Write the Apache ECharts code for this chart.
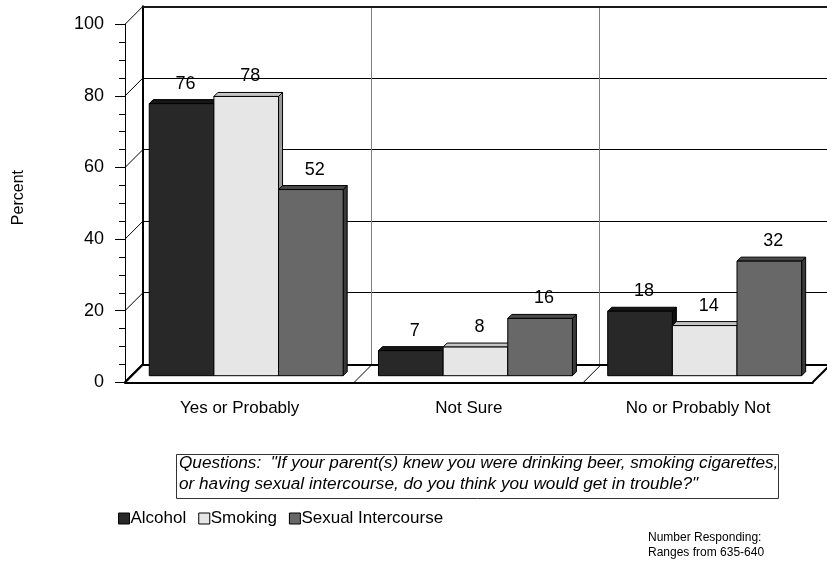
<!DOCTYPE html>
<html>
<head>
<meta charset="utf-8">
<script src="https://cdn.jsdelivr.net/npm/echarts@6/dist/echarts.min.js"></script>
<style>
  html, body { margin: 0; padding: 0; background: #ffffff; }
  #chart { width: 827px; height: 566px; }
</style>
</head>
<body>
<div id="chart"></div>
<script>
// Survey answers, percent of respondents
const categories = ['Yes or Probably', 'Not Sure', 'No or Probably Not'];
const seriesNames = ['Alcohol', 'Smoking', 'Sexual Intercourse'];
const alcohol = [76, 7, 18];
const smoking = [78, 8, 14];
const sexualIntercourse = [52, 16, 32];
const valueTicks = [0, 20, 40, 60, 80, 100];

// Box geometry of the pseudo-3D plot
const FRONT_LEFT = 125, FRONT_TOP = 24.3, PLOT_W = 687.7, PLOT_H = 358;
const DEPTH = 18;        // offset of the back wall (px, up-right)
const BAR_SHIFT = 6.6;   // bars stand part-way into the floor
const BAR_DEPTH = 4;     // thickness of each column
const GROUP_GAP = 0.154; // empty share of each category band

const FONT = 'Arial, "Liberation Sans", sans-serif';

// front face / top face / side face shades for each series
const shades = [
  { front: '#282828', top: '#161616', side: '#101010' },
  { front: '#e6e6e6', top: '#c4c4c4', side: '#9a9a9a' },
  { front: '#686868', top: '#4a4a4a', side: '#3a3a3a' }
];
const seriesData = [alcohol, smoking, sexualIntercourse];

function columnRenderer(k) {
  return function (params, api) {
    const cat = api.value(0);
    const val = api.value(1);
    const base = api.coord([cat, 0]);
    const top = api.coord([cat, val]);
    const band = api.size([1, 0])[0];
    const group = band * (1 - GROUP_GAP);
    const w = group / 3;
    const x0 = base[0] - group / 2 + k * w;
    const x1 = x0 + w;
    const yb = base[1], yt = top[1];
    const d = BAR_DEPTH;
    const c = shades[k];
    return {
      type: 'group',
      children: [
        { type: 'polygon', shape: { points: [[x1, yt], [x1 + d, yt - d], [x1 + d, yb - d], [x1, yb]] },
          style: { fill: c.side, stroke: '#000', lineWidth: 1 } },
        { type: 'polygon', shape: { points: [[x0, yt], [x0 + d, yt - d], [x1 + d, yt - d], [x1, yt]] },
          style: { fill: c.top, stroke: '#000', lineWidth: 1 } },
        { type: 'rect', shape: { x: x0, y: yt, width: w, height: yb - yt },
          style: { fill: c.front, stroke: '#000', lineWidth: 1 } },
        { type: 'text', style: { text: String(val), x: (x0 + x1) / 2 + 4, y: yt - 20,
          align: 'center', verticalAlign: 'middle', font: '18px ' + FONT, fill: '#000' } }
      ]
    };
  };
}

const columnSeries = seriesData.map(function (arr, k) {
  return {
    name: seriesNames[k],
    type: 'custom',
    xAxisIndex: 2,
    yAxisIndex: 2,
    z: 5,
    itemStyle: { color: shades[k].front, borderColor: '#000', borderWidth: 1 },
    renderItem: columnRenderer(k),
    data: arr.map(function (v, i) { return [i, v]; })
  };
});

// connectors from the front value axis to the back wall
const tickDiagonals = {
  type: 'custom',
  xAxisIndex: 0,
  yAxisIndex: 0,
  z: 3,
  silent: true,
  renderItem: function (params, api) {
    const y = api.coord([0, api.value(1)])[1];
    const x = params.coordSys.x;
    const v = api.value(1);
    return {
      type: 'line',
      shape: { x1: x, y1: y, x2: x + DEPTH, y2: y - DEPTH },
      style: { stroke: '#000', lineWidth: v === 0 ? 2 : 1 }
    };
  },
  data: valueTicks.map(function (v) { return [0, v]; })
};

// floor edges between categories
const floorDiagonals = {
  type: 'custom',
  xAxisIndex: 0,
  yAxisIndex: 0,
  z: 3,
  silent: true,
  renderItem: function (params, api) {
    const b = api.value(2);
    const band = api.size([1, 0])[0];
    const x = params.coordSys.x + b * band;
    const y = api.coord([0, 0])[1];
    const edge = (b === 0 || b === categories.length);
    return {
      type: 'line',
      shape: { x1: x, y1: y, x2: x + DEPTH, y2: y - DEPTH },
      style: { stroke: '#000', lineWidth: edge ? 2 : 1 }
    };
  },
  data: [0, 1, 2, 3].map(function (b) { return [0, 0, b]; })
};

const chart = echarts.init(document.getElementById('chart'), null, { renderer: 'canvas' });

chart.setOption({
  backgroundColor: '#ffffff',
  animation: false,
  textStyle: { fontFamily: FONT },
  grid: [
    { left: FRONT_LEFT, top: FRONT_TOP, width: PLOT_W, height: PLOT_H },
    { left: FRONT_LEFT + DEPTH, top: FRONT_TOP - DEPTH, width: PLOT_W, height: PLOT_H },
    { left: FRONT_LEFT + BAR_SHIFT, top: FRONT_TOP - BAR_SHIFT, width: PLOT_W, height: PLOT_H }
  ],
  xAxis: [
    {
      gridIndex: 0, type: 'category', data: categories,
      axisLine: { lineStyle: { color: '#000', width: 2 } },
      axisTick: { alignWithLabel: true, length: 10, lineStyle: { color: '#000' } },
      axisLabel: { color: '#000', fontSize: 17, margin: 18, fontFamily: FONT },
      splitLine: { show: false }
    },
    {
      gridIndex: 1, type: 'category', data: categories,
      axisLine: { lineStyle: { color: '#000', width: 2 } },
      axisTick: { show: false },
      axisLabel: { show: false },
      splitLine: { show: true, lineStyle: { color: '#808080', width: 1 } }
    },
    {
      gridIndex: 2, type: 'category', data: categories, show: false
    },
    {
      gridIndex: 1, type: 'category', data: categories, position: 'top',
      axisLine: { lineStyle: { color: '#1a1a1a', width: 2 } },
      axisTick: { show: false },
      axisLabel: { show: false },
      splitLine: { show: false }
    }
  ],
  yAxis: [
    {
      gridIndex: 0, type: 'value', min: 0, max: 100, interval: 20,
      axisLine: { show: true, lineStyle: { color: '#000', width: 1 } },
      axisTick: { show: true, length: 10, lineStyle: { color: '#000' } },
      minorTick: { show: true, splitNumber: 4, length: 6, lineStyle: { color: '#000' } },
      axisLabel: { color: '#000', fontSize: 18, margin: 21, fontFamily: FONT },
      splitLine: { show: false }
    },
    {
      gridIndex: 1, type: 'value', min: 0, max: 100, interval: 20,
      axisLine: { show: true, lineStyle: { color: '#000', width: 2 } },
      axisTick: { show: false },
      axisLabel: { show: false },
      splitLine: { show: true, lineStyle: { color: '#000', width: 1 } }
    },
    {
      gridIndex: 2, type: 'value', min: 0, max: 100, show: false
    }
  ],
  legend: {
    left: 113,
    top: 505,
    icon: 'rect',
    itemWidth: 11,
    itemHeight: 11,
    itemGap: 12,
    selectedMode: false,
    textStyle: { color: '#000', fontSize: 17, fontFamily: FONT, padding: [0, 0, 0, -4] },
    data: seriesNames.map(function (n, k) {
      return { name: n, itemStyle: { color: shades[k].front, borderColor: '#000', borderWidth: 1 } };
    })
  },
  graphic: [
    {
      type: 'text', left: 11, top: 170,
      rotation: Math.PI / 2,
      style: { text: 'Percent', font: '16px ' + FONT, fill: '#000' }
    },
    {
      type: 'rect', left: 174, top: 452,
      shape: { width: 602, height: 44 },
      style: { fill: 'none', stroke: '#333', lineWidth: 1 }
    },
    {
      type: 'text', left: 179, top: 453,
      style: {
        text: 'Questions:  "If your parent(s) knew you were drinking beer, smoking cigarettes,\nor having sexual intercourse, do you think you would get in trouble?"',
        font: 'italic 17.2px ' + FONT, fill: '#000', lineHeight: 21
      }
    },
    {
      type: 'text', left: 648, top: 530,
      style: {
        text: 'Number Responding:\nRanges from 635-640',
        font: '12px ' + FONT, fill: '#000', lineHeight: 15
      }
    }
  ],
  series: [tickDiagonals, floorDiagonals].concat(columnSeries)
});
</script>
</body>
</html>
